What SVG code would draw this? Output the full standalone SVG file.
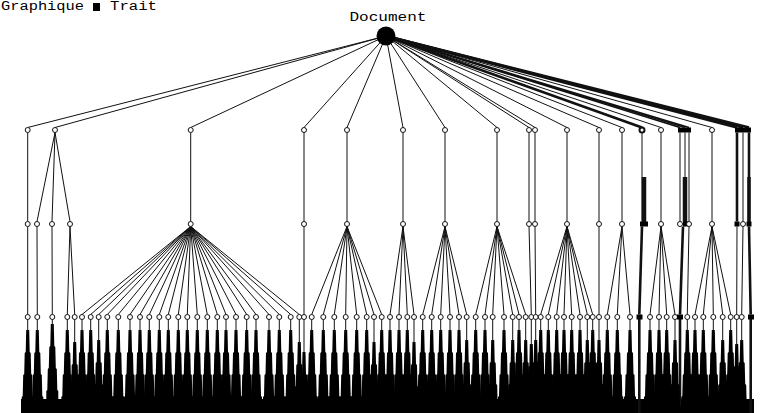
<svg xmlns="http://www.w3.org/2000/svg" xmlns:xlink="http://www.w3.org/1999/xlink" width="761" height="413" viewBox="0 0 761 413">
<style>
.t{font-family:"Liberation Mono","DejaVu Sans Mono",monospace;font-size:13px;fill:#000}
.lg{font-size:12px}
.e line{stroke:#111;stroke-width:1;fill:none}
.e .k{stroke-width:2.6}
.e .m{stroke-width:1.6}
.n{fill:#fff;stroke:#111;stroke-width:1}
.s{fill:#000}
</style>
<defs>
<path id="spike" d="M-1.5,330 L1.5,330 L2,352 L3,353 L3.5,374 L4.5,375 L5,396 L6,397 L6,413 L-6,413 L-6,397 L-5,396 L-4.5,375 L-3.5,374 L-3,353 L-2,352 Z"/>
</defs>
<rect width="761" height="413" fill="#fff"/>
<g id="legend">
<text class="t lg" x="1" y="10" textLength="83" lengthAdjust="spacingAndGlyphs">Graphique</text>
<rect x="93" y="3" width="7" height="8" fill="#000"/>
<text class="t lg" x="110" y="10" textLength="47" lengthAdjust="spacingAndGlyphs">Trait</text>
</g>
<g id="bottom-band"><rect x="21" y="399" width="733" height="14" fill="#000"/></g>
<g id="connectors" class="e">
<line x1="386" y1="36" x2="27.7" y2="127.5"/>
<line x1="386" y1="36" x2="55" y2="127.5"/>
<line x1="386" y1="36" x2="190.7" y2="127.5"/>
<line x1="386" y1="36" x2="304" y2="127.5"/>
<line x1="386" y1="36" x2="347" y2="127.5"/>
<line x1="386" y1="36" x2="403" y2="127.5"/>
<line x1="386" y1="36" x2="445" y2="127.5"/>
<line x1="386" y1="36" x2="497" y2="127.5"/>
<line x1="386" y1="36" x2="529" y2="127.5"/>
<line x1="386" y1="36" x2="535" y2="127.5"/>
<line x1="386" y1="36" x2="567" y2="127.5"/>
<line x1="386" y1="36" x2="599" y2="127.5"/>
<line x1="386" y1="36" x2="622" y2="127.5"/>
<line class="k" x1="386" y1="36" x2="642" y2="127.5"/>
<line x1="386" y1="36" x2="661" y2="127.5"/>
<line class="m" x1="386" y1="36" x2="680" y2="127.5"/>
<line class="m" x1="386" y1="36" x2="685" y2="127.5"/>
<line class="m" x1="386" y1="36" x2="689" y2="127.5"/>
<line x1="386" y1="36" x2="712" y2="127.5"/>
<line class="k" x1="386" y1="36" x2="737" y2="127.5"/>
<line class="k" x1="386" y1="36" x2="743" y2="127.5"/>
<line class="k" x1="386" y1="36" x2="749" y2="127.5"/>
<line x1="27.7" y1="132.5" x2="27.7" y2="221.5"/>
<line x1="55" y1="132.5" x2="37" y2="221.5"/>
<line x1="55" y1="132.5" x2="52" y2="221.5"/>
<line x1="55" y1="132.5" x2="70" y2="221.5"/>
<line x1="190.7" y1="132.5" x2="190.7" y2="221.5"/>
<line x1="304" y1="132.5" x2="304" y2="221.5"/>
<line x1="347" y1="132.5" x2="347" y2="221.5"/>
<line x1="403" y1="132.5" x2="403" y2="221.5"/>
<line x1="445" y1="132.5" x2="445" y2="221.5"/>
<line x1="497" y1="132.5" x2="497" y2="221.5"/>
<line x1="529" y1="132.5" x2="529" y2="221.5"/>
<line x1="535" y1="132.5" x2="535" y2="221.5"/>
<line x1="567" y1="132.5" x2="567" y2="221.5"/>
<line x1="599" y1="132.5" x2="599" y2="221.5"/>
<line x1="622" y1="132.5" x2="622" y2="221.5"/>
<line x1="642" y1="132.5" x2="642" y2="221.5"/>
<line x1="661" y1="132.5" x2="661" y2="221.5"/>
<line x1="680" y1="132.5" x2="680" y2="221.5"/>
<line x1="685" y1="132.5" x2="685" y2="221.5"/>
<line x1="689" y1="132.5" x2="689" y2="221.5"/>
<line x1="712" y1="132.5" x2="712" y2="221.5"/>
<line class="k" x1="737" y1="132.5" x2="737" y2="221.5"/>
<line x1="743" y1="132.5" x2="743" y2="221.5"/>
<line class="k" x1="749" y1="132.5" x2="749" y2="221.5"/>
<line x1="27.7" y1="226.5" x2="27.7" y2="314.5"/>
<line x1="37" y1="226.5" x2="37.3" y2="314.5"/>
<line x1="52" y1="226.5" x2="52.3" y2="314.5"/>
<line x1="70" y1="226.5" x2="67.3" y2="314.5"/>
<line x1="70" y1="226.5" x2="74.7" y2="314.5"/>
<line x1="190.7" y1="226.5" x2="82" y2="314.5"/>
<line x1="190.7" y1="226.5" x2="90.7" y2="314.5"/>
<line x1="190.7" y1="226.5" x2="98.7" y2="314.5"/>
<line x1="190.7" y1="226.5" x2="107.3" y2="314.5"/>
<line x1="190.7" y1="226.5" x2="118.3" y2="314.5"/>
<line x1="190.7" y1="226.5" x2="130" y2="314.5"/>
<line x1="190.7" y1="226.5" x2="140" y2="314.5"/>
<line x1="190.7" y1="226.5" x2="149.3" y2="314.5"/>
<line x1="190.7" y1="226.5" x2="159.3" y2="314.5"/>
<line x1="190.7" y1="226.5" x2="168.3" y2="314.5"/>
<line x1="190.7" y1="226.5" x2="178.3" y2="314.5"/>
<line x1="190.7" y1="226.5" x2="187.3" y2="314.5"/>
<line x1="190.7" y1="226.5" x2="197.3" y2="314.5"/>
<line x1="190.7" y1="226.5" x2="207.3" y2="314.5"/>
<line x1="190.7" y1="226.5" x2="217.3" y2="314.5"/>
<line x1="190.7" y1="226.5" x2="226" y2="314.5"/>
<line x1="190.7" y1="226.5" x2="236" y2="314.5"/>
<line x1="190.7" y1="226.5" x2="246.7" y2="314.5"/>
<line x1="190.7" y1="226.5" x2="256" y2="314.5"/>
<line x1="190.7" y1="226.5" x2="269" y2="314.5"/>
<line x1="190.7" y1="226.5" x2="279.3" y2="314.5"/>
<line x1="190.7" y1="226.5" x2="290.7" y2="314.5"/>
<line x1="190.7" y1="226.5" x2="299.3" y2="314.5"/>
<line x1="304" y1="226.5" x2="304" y2="314.5"/>
<line x1="347" y1="226.5" x2="311.7" y2="314.5"/>
<line x1="347" y1="226.5" x2="323.3" y2="314.5"/>
<line x1="347" y1="226.5" x2="334.3" y2="314.5"/>
<line x1="347" y1="226.5" x2="345.7" y2="314.5"/>
<line x1="347" y1="226.5" x2="356.7" y2="314.5"/>
<line x1="347" y1="226.5" x2="366.7" y2="314.5"/>
<line x1="347" y1="226.5" x2="374" y2="314.5"/>
<line x1="347" y1="226.5" x2="381.7" y2="314.5"/>
<line x1="403" y1="226.5" x2="390" y2="314.5"/>
<line x1="403" y1="226.5" x2="399" y2="314.5"/>
<line x1="403" y1="226.5" x2="407.3" y2="314.5"/>
<line x1="403" y1="226.5" x2="414" y2="314.5"/>
<line x1="445" y1="226.5" x2="422.7" y2="314.5"/>
<line x1="445" y1="226.5" x2="431.7" y2="314.5"/>
<line x1="445" y1="226.5" x2="440.7" y2="314.5"/>
<line x1="445" y1="226.5" x2="450" y2="314.5"/>
<line x1="445" y1="226.5" x2="459" y2="314.5"/>
<line x1="445" y1="226.5" x2="466.7" y2="314.5"/>
<line x1="497" y1="226.5" x2="475.7" y2="314.5"/>
<line x1="497" y1="226.5" x2="485" y2="314.5"/>
<line x1="497" y1="226.5" x2="492.7" y2="314.5"/>
<line x1="497" y1="226.5" x2="504" y2="314.5"/>
<line x1="497" y1="226.5" x2="512.7" y2="314.5"/>
<line x1="497" y1="226.5" x2="519" y2="314.5"/>
<line x1="497" y1="226.5" x2="525.7" y2="314.5"/>
<line x1="529" y1="226.5" x2="531.3" y2="314.5"/>
<line x1="535" y1="226.5" x2="535.7" y2="314.5"/>
<line x1="567" y1="226.5" x2="540.7" y2="314.5"/>
<line x1="567" y1="226.5" x2="548.3" y2="314.5"/>
<line x1="567" y1="226.5" x2="556.7" y2="314.5"/>
<line x1="567" y1="226.5" x2="564" y2="314.5"/>
<line x1="567" y1="226.5" x2="571.7" y2="314.5"/>
<line x1="567" y1="226.5" x2="580" y2="314.5"/>
<line x1="567" y1="226.5" x2="587.3" y2="314.5"/>
<line x1="567" y1="226.5" x2="592.7" y2="314.5"/>
<line x1="599" y1="226.5" x2="599" y2="314.5"/>
<line x1="622" y1="226.5" x2="607.3" y2="314.5"/>
<line x1="622" y1="226.5" x2="617.3" y2="314.5"/>
<line x1="622" y1="226.5" x2="630" y2="314.5"/>
<line class="k" x1="642" y1="226.5" x2="639.3" y2="314.5"/>
<line x1="661" y1="226.5" x2="650" y2="314.5"/>
<line x1="661" y1="226.5" x2="659" y2="314.5"/>
<line x1="661" y1="226.5" x2="666.7" y2="314.5"/>
<line x1="661" y1="226.5" x2="675" y2="314.5"/>
<line class="k" x1="683" y1="226.5" x2="680" y2="314.5"/>
<line x1="689" y1="226.5" x2="687.3" y2="314.5"/>
<line x1="712" y1="226.5" x2="695" y2="314.5"/>
<line x1="712" y1="226.5" x2="703.3" y2="314.5"/>
<line x1="712" y1="226.5" x2="713.3" y2="314.5"/>
<line x1="712" y1="226.5" x2="722.7" y2="314.5"/>
<line x1="712" y1="226.5" x2="730.7" y2="314.5"/>
<line x1="737" y1="226.5" x2="736.7" y2="314.5"/>
<line x1="743" y1="226.5" x2="741.7" y2="314.5"/>
<line class="k" x1="749" y1="226.5" x2="750.7" y2="314.5"/>
<line class="k" x1="644" y1="177" x2="644" y2="222" style="stroke-width:4.5"/>
<line class="k" x1="685" y1="177" x2="685" y2="222" style="stroke-width:4.5"/>
<line class="k" x1="749" y1="177" x2="749" y2="222" style="stroke-width:3.5"/>
<line class="k" x1="639.3" y1="319" x2="639.3" y2="413"/>
<line class="k" x1="680" y1="319" x2="680" y2="413"/>
<line class="k" x1="750.7" y1="319" x2="750.7" y2="413"/>
</g>
<g id="root">
<circle cx="386" cy="36" r="9.5" fill="#000"/>
<text class="t" x="388" y="21" text-anchor="middle" textLength="77" lengthAdjust="spacingAndGlyphs">Document</text>
</g>
<g id="level1">
<g id="n1-27"><circle class="n" cx="27.7" cy="130" r="2.5"/></g>
<g id="n1-55"><circle class="n" cx="55" cy="130" r="2.5"/></g>
<g id="n1-190"><circle class="n" cx="190.7" cy="130" r="2.5"/></g>
<g id="n1-304"><circle class="n" cx="304" cy="130" r="2.5"/></g>
<g id="n1-347"><circle class="n" cx="347" cy="130" r="2.5"/></g>
<g id="n1-403"><circle class="n" cx="403" cy="130" r="2.5"/></g>
<g id="n1-445"><circle class="n" cx="445" cy="130" r="2.5"/></g>
<g id="n1-497"><circle class="n" cx="497" cy="130" r="2.5"/></g>
<g id="n1-529"><circle class="n" cx="529" cy="130" r="2.5"/></g>
<g id="n1-535"><circle class="n" cx="535" cy="130" r="2.5"/></g>
<g id="n1-567"><circle class="n" cx="567" cy="130" r="2.5"/></g>
<g id="n1-599"><circle class="n" cx="599" cy="130" r="2.5"/></g>
<g id="n1-622"><circle class="n" cx="622" cy="130" r="2.5"/></g>
<g id="n1-642"><circle class="n" cx="642" cy="130" r="2.5" style="stroke-width:2"/></g>
<g id="n1-661"><circle class="n" cx="661" cy="130" r="2.5"/></g>
<g id="n1-685"><rect x="678" y="127.5" width="13" height="5" fill="#000"/></g>
<g id="n1-712"><circle class="n" cx="712" cy="130" r="2.5"/></g>
<g id="n1-743"><rect x="735" y="127.5" width="16" height="5" fill="#000"/></g>
</g>
<g id="level2">
<g id="n2-27"><circle class="n" cx="27.7" cy="224" r="2.5"/></g>
<g id="n2-37"><circle class="n" cx="37" cy="224" r="2.5"/></g>
<g id="n2-52"><circle class="n" cx="52" cy="224" r="2.5"/></g>
<g id="n2-70"><circle class="n" cx="70" cy="224" r="2.5"/></g>
<g id="n2-190"><circle class="n" cx="190.7" cy="224" r="2.5"/></g>
<g id="n2-304"><circle class="n" cx="304" cy="224" r="2.5"/></g>
<g id="n2-347"><circle class="n" cx="347" cy="224" r="2.5"/></g>
<g id="n2-403"><circle class="n" cx="403" cy="224" r="2.5"/></g>
<g id="n2-445"><circle class="n" cx="445" cy="224" r="2.5"/></g>
<g id="n2-497"><circle class="n" cx="497" cy="224" r="2.5"/></g>
<g id="n2-529"><circle class="n" cx="529" cy="224" r="2.5"/></g>
<g id="n2-535"><circle class="n" cx="535" cy="224" r="2.5"/></g>
<g id="n2-567"><circle class="n" cx="567" cy="224" r="2.5"/></g>
<g id="n2-599"><circle class="n" cx="599" cy="224" r="2.5"/></g>
<g id="n2-622"><circle class="n" cx="622" cy="224" r="2.5"/></g>
<g id="n2-642"><rect x="640" y="221.5" width="8" height="5" fill="#000"/></g>
<g id="n2-661"><circle class="n" cx="661" cy="224" r="2.5"/></g>
<g id="n2-680"><circle class="n" cx="680" cy="224" r="2.5"/></g>
<g id="n2-685"><rect x="683" y="221.5" width="5" height="5" fill="#000"/></g>
<g id="n2-689"><circle class="n" cx="689" cy="224" r="2.5"/></g>
<g id="n2-712"><circle class="n" cx="712" cy="224" r="2.5"/></g>
<g id="n2-737"><rect x="734.5" y="221.5" width="5" height="5" fill="#000"/></g>
<g id="n2-743"><circle class="n" cx="743" cy="224" r="2.5"/></g>
<g id="n2-749"><rect x="746.5" y="221.5" width="5" height="5" fill="#000"/></g>
</g>
<g id="level3">
<g id="n3-27"><use href="#spike" x="27.7" class="s"/><line x1="27.7" y1="319" x2="27.7" y2="332" stroke="#111"/><circle class="n" cx="27.7" cy="317" r="2.5"/></g>
<g id="n3-37"><use href="#spike" x="37.3" class="s"/><line x1="37.3" y1="319" x2="37.3" y2="332" stroke="#111"/><circle class="n" cx="37.3" cy="317" r="2.5"/></g>
<g id="n3-52"><use href="#spike" x="52.3" class="s" transform="translate(0,-6)"/><line x1="52.3" y1="319" x2="52.3" y2="332" stroke="#111"/><circle class="n" cx="52.3" cy="317" r="2.5"/></g>
<g id="n3-67"><use href="#spike" x="67.3" class="s"/><line x1="67.3" y1="319" x2="67.3" y2="332" stroke="#111"/><circle class="n" cx="67.3" cy="317" r="2.5"/></g>
<g id="n3-75"><use href="#spike" x="74.7" class="s" transform="translate(0,12)"/><line x1="74.7" y1="319" x2="74.7" y2="344" stroke="#111"/><circle class="n" cx="74.7" cy="317" r="2.5"/></g>
<g id="n3-82"><use href="#spike" x="82" class="s"/><line x1="82" y1="319" x2="82" y2="332" stroke="#111"/><circle class="n" cx="82" cy="317" r="2.5"/></g>
<g id="n3-91"><use href="#spike" x="90.7" class="s"/><line x1="90.7" y1="319" x2="90.7" y2="332" stroke="#111"/><circle class="n" cx="90.7" cy="317" r="2.5"/></g>
<g id="n3-99"><use href="#spike" x="98.7" class="s" transform="translate(0,10)"/><line x1="98.7" y1="319" x2="98.7" y2="342" stroke="#111"/><circle class="n" cx="98.7" cy="317" r="2.5"/></g>
<g id="n3-107"><use href="#spike" x="107.3" class="s"/><line x1="107.3" y1="319" x2="107.3" y2="332" stroke="#111"/><circle class="n" cx="107.3" cy="317" r="2.5"/></g>
<g id="n3-118"><use href="#spike" x="118.3" class="s"/><line x1="118.3" y1="319" x2="118.3" y2="332" stroke="#111"/><circle class="n" cx="118.3" cy="317" r="2.5"/></g>
<g id="n3-130"><use href="#spike" x="130" class="s"/><line x1="130" y1="319" x2="130" y2="332" stroke="#111"/><circle class="n" cx="130" cy="317" r="2.5"/></g>
<g id="n3-140"><use href="#spike" x="140" class="s"/><line x1="140" y1="319" x2="140" y2="332" stroke="#111"/><circle class="n" cx="140" cy="317" r="2.5"/></g>
<g id="n3-149"><use href="#spike" x="149.3" class="s"/><line x1="149.3" y1="319" x2="149.3" y2="332" stroke="#111"/><circle class="n" cx="149.3" cy="317" r="2.5"/></g>
<g id="n3-159"><use href="#spike" x="159.3" class="s"/><line x1="159.3" y1="319" x2="159.3" y2="332" stroke="#111"/><circle class="n" cx="159.3" cy="317" r="2.5"/></g>
<g id="n3-168"><use href="#spike" x="168.3" class="s"/><line x1="168.3" y1="319" x2="168.3" y2="332" stroke="#111"/><circle class="n" cx="168.3" cy="317" r="2.5"/></g>
<g id="n3-178"><use href="#spike" x="178.3" class="s"/><line x1="178.3" y1="319" x2="178.3" y2="332" stroke="#111"/><circle class="n" cx="178.3" cy="317" r="2.5"/></g>
<g id="n3-187"><use href="#spike" x="187.3" class="s"/><line x1="187.3" y1="319" x2="187.3" y2="332" stroke="#111"/><circle class="n" cx="187.3" cy="317" r="2.5"/></g>
<g id="n3-197"><use href="#spike" x="197.3" class="s"/><line x1="197.3" y1="319" x2="197.3" y2="332" stroke="#111"/><circle class="n" cx="197.3" cy="317" r="2.5"/></g>
<g id="n3-207"><use href="#spike" x="207.3" class="s"/><line x1="207.3" y1="319" x2="207.3" y2="332" stroke="#111"/><circle class="n" cx="207.3" cy="317" r="2.5"/></g>
<g id="n3-217"><use href="#spike" x="217.3" class="s"/><line x1="217.3" y1="319" x2="217.3" y2="332" stroke="#111"/><circle class="n" cx="217.3" cy="317" r="2.5"/></g>
<g id="n3-226"><use href="#spike" x="226" class="s"/><line x1="226" y1="319" x2="226" y2="332" stroke="#111"/><circle class="n" cx="226" cy="317" r="2.5"/></g>
<g id="n3-236"><use href="#spike" x="236" class="s"/><line x1="236" y1="319" x2="236" y2="332" stroke="#111"/><circle class="n" cx="236" cy="317" r="2.5"/></g>
<g id="n3-247"><use href="#spike" x="246.7" class="s"/><line x1="246.7" y1="319" x2="246.7" y2="332" stroke="#111"/><circle class="n" cx="246.7" cy="317" r="2.5"/></g>
<g id="n3-256"><use href="#spike" x="256" class="s"/><line x1="256" y1="319" x2="256" y2="332" stroke="#111"/><circle class="n" cx="256" cy="317" r="2.5"/></g>
<g id="n3-269"><use href="#spike" x="269" class="s"/><line x1="269" y1="319" x2="269" y2="332" stroke="#111"/><circle class="n" cx="269" cy="317" r="2.5"/></g>
<g id="n3-279"><use href="#spike" x="279.3" class="s"/><line x1="279.3" y1="319" x2="279.3" y2="332" stroke="#111"/><circle class="n" cx="279.3" cy="317" r="2.5"/></g>
<g id="n3-291"><use href="#spike" x="290.7" class="s"/><line x1="290.7" y1="319" x2="290.7" y2="332" stroke="#111"/><circle class="n" cx="290.7" cy="317" r="2.5"/></g>
<g id="n3-299"><use href="#spike" x="299.3" class="s" transform="translate(0,12)"/><line x1="299.3" y1="319" x2="299.3" y2="344" stroke="#111"/><circle class="n" cx="299.3" cy="317" r="2.5"/></g>
<g id="n3-304"><use href="#spike" x="304" class="s" transform="translate(0,22)"/><line x1="304" y1="319" x2="304" y2="354" stroke="#111"/><circle class="n" cx="304" cy="317" r="2.5"/></g>
<g id="n3-312"><use href="#spike" x="311.7" class="s"/><line x1="311.7" y1="319" x2="311.7" y2="332" stroke="#111"/><circle class="n" cx="311.7" cy="317" r="2.5"/></g>
<g id="n3-323"><use href="#spike" x="323.3" class="s"/><line x1="323.3" y1="319" x2="323.3" y2="332" stroke="#111"/><circle class="n" cx="323.3" cy="317" r="2.5"/></g>
<g id="n3-334"><use href="#spike" x="334.3" class="s"/><line x1="334.3" y1="319" x2="334.3" y2="332" stroke="#111"/><circle class="n" cx="334.3" cy="317" r="2.5"/></g>
<g id="n3-346"><use href="#spike" x="345.7" class="s"/><line x1="345.7" y1="319" x2="345.7" y2="332" stroke="#111"/><circle class="n" cx="345.7" cy="317" r="2.5"/></g>
<g id="n3-357"><use href="#spike" x="356.7" class="s"/><line x1="356.7" y1="319" x2="356.7" y2="332" stroke="#111"/><circle class="n" cx="356.7" cy="317" r="2.5"/></g>
<g id="n3-367"><use href="#spike" x="366.7" class="s"/><line x1="366.7" y1="319" x2="366.7" y2="332" stroke="#111"/><circle class="n" cx="366.7" cy="317" r="2.5"/></g>
<g id="n3-374"><use href="#spike" x="374" class="s" transform="translate(0,12)"/><line x1="374" y1="319" x2="374" y2="344" stroke="#111"/><circle class="n" cx="374" cy="317" r="2.5"/></g>
<g id="n3-382"><use href="#spike" x="381.7" class="s"/><line x1="381.7" y1="319" x2="381.7" y2="332" stroke="#111"/><circle class="n" cx="381.7" cy="317" r="2.5"/></g>
<g id="n3-390"><use href="#spike" x="390" class="s"/><line x1="390" y1="319" x2="390" y2="332" stroke="#111"/><circle class="n" cx="390" cy="317" r="2.5"/></g>
<g id="n3-399"><use href="#spike" x="399" class="s"/><line x1="399" y1="319" x2="399" y2="332" stroke="#111"/><circle class="n" cx="399" cy="317" r="2.5"/></g>
<g id="n3-407"><use href="#spike" x="407.3" class="s"/><line x1="407.3" y1="319" x2="407.3" y2="332" stroke="#111"/><circle class="n" cx="407.3" cy="317" r="2.5"/></g>
<g id="n3-414"><use href="#spike" x="414" class="s" transform="translate(0,12)"/><line x1="414" y1="319" x2="414" y2="344" stroke="#111"/><circle class="n" cx="414" cy="317" r="2.5"/></g>
<g id="n3-423"><use href="#spike" x="422.7" class="s"/><line x1="422.7" y1="319" x2="422.7" y2="332" stroke="#111"/><circle class="n" cx="422.7" cy="317" r="2.5"/></g>
<g id="n3-432"><use href="#spike" x="431.7" class="s"/><line x1="431.7" y1="319" x2="431.7" y2="332" stroke="#111"/><circle class="n" cx="431.7" cy="317" r="2.5"/></g>
<g id="n3-441"><use href="#spike" x="440.7" class="s"/><line x1="440.7" y1="319" x2="440.7" y2="332" stroke="#111"/><circle class="n" cx="440.7" cy="317" r="2.5"/></g>
<g id="n3-450"><use href="#spike" x="450" class="s"/><line x1="450" y1="319" x2="450" y2="332" stroke="#111"/><circle class="n" cx="450" cy="317" r="2.5"/></g>
<g id="n3-459"><use href="#spike" x="459" class="s"/><line x1="459" y1="319" x2="459" y2="332" stroke="#111"/><circle class="n" cx="459" cy="317" r="2.5"/></g>
<g id="n3-467"><use href="#spike" x="466.7" class="s" transform="translate(0,10)"/><line x1="466.7" y1="319" x2="466.7" y2="342" stroke="#111"/><circle class="n" cx="466.7" cy="317" r="2.5"/></g>
<g id="n3-476"><use href="#spike" x="475.7" class="s"/><line x1="475.7" y1="319" x2="475.7" y2="332" stroke="#111"/><circle class="n" cx="475.7" cy="317" r="2.5"/></g>
<g id="n3-485"><use href="#spike" x="485" class="s"/><line x1="485" y1="319" x2="485" y2="332" stroke="#111"/><circle class="n" cx="485" cy="317" r="2.5"/></g>
<g id="n3-493"><use href="#spike" x="492.7" class="s" transform="translate(0,10)"/><line x1="492.7" y1="319" x2="492.7" y2="342" stroke="#111"/><circle class="n" cx="492.7" cy="317" r="2.5"/></g>
<g id="n3-504"><use href="#spike" x="504" class="s"/><line x1="504" y1="319" x2="504" y2="332" stroke="#111"/><circle class="n" cx="504" cy="317" r="2.5"/></g>
<g id="n3-513"><use href="#spike" x="512.7" class="s" transform="translate(0,10)"/><line x1="512.7" y1="319" x2="512.7" y2="342" stroke="#111"/><circle class="n" cx="512.7" cy="317" r="2.5"/></g>
<g id="n3-519"><use href="#spike" x="519" class="s"/><line x1="519" y1="319" x2="519" y2="332" stroke="#111"/><circle class="n" cx="519" cy="317" r="2.5"/></g>
<g id="n3-526"><use href="#spike" x="525.7" class="s" transform="translate(0,10)"/><line x1="525.7" y1="319" x2="525.7" y2="342" stroke="#111"/><circle class="n" cx="525.7" cy="317" r="2.5"/></g>
<g id="n3-531"><use href="#spike" x="531.3" class="s" transform="translate(0,14)"/><line x1="531.3" y1="319" x2="531.3" y2="346" stroke="#111"/><circle class="n" cx="531.3" cy="317" r="2.5"/></g>
<g id="n3-536"><use href="#spike" x="535.7" class="s" transform="translate(0,10)"/><line x1="535.7" y1="319" x2="535.7" y2="342" stroke="#111"/><circle class="n" cx="535.7" cy="317" r="2.5"/></g>
<g id="n3-541"><use href="#spike" x="540.7" class="s"/><line x1="540.7" y1="319" x2="540.7" y2="332" stroke="#111"/><circle class="n" cx="540.7" cy="317" r="2.5"/></g>
<g id="n3-548"><use href="#spike" x="548.3" class="s"/><line x1="548.3" y1="319" x2="548.3" y2="332" stroke="#111"/><circle class="n" cx="548.3" cy="317" r="2.5"/></g>
<g id="n3-557"><use href="#spike" x="556.7" class="s"/><line x1="556.7" y1="319" x2="556.7" y2="332" stroke="#111"/><circle class="n" cx="556.7" cy="317" r="2.5"/></g>
<g id="n3-564"><use href="#spike" x="564" class="s"/><line x1="564" y1="319" x2="564" y2="332" stroke="#111"/><circle class="n" cx="564" cy="317" r="2.5"/></g>
<g id="n3-572"><use href="#spike" x="571.7" class="s"/><line x1="571.7" y1="319" x2="571.7" y2="332" stroke="#111"/><circle class="n" cx="571.7" cy="317" r="2.5"/></g>
<g id="n3-580"><use href="#spike" x="580" class="s"/><line x1="580" y1="319" x2="580" y2="332" stroke="#111"/><circle class="n" cx="580" cy="317" r="2.5"/></g>
<g id="n3-587"><use href="#spike" x="587.3" class="s" transform="translate(0,10)"/><line x1="587.3" y1="319" x2="587.3" y2="342" stroke="#111"/><circle class="n" cx="587.3" cy="317" r="2.5"/></g>
<g id="n3-593"><use href="#spike" x="592.7" class="s"/><line x1="592.7" y1="319" x2="592.7" y2="332" stroke="#111"/><circle class="n" cx="592.7" cy="317" r="2.5"/></g>
<g id="n3-599"><use href="#spike" x="599" class="s" transform="translate(0,10)"/><line x1="599" y1="319" x2="599" y2="342" stroke="#111"/><circle class="n" cx="599" cy="317" r="2.5"/></g>
<g id="n3-607"><use href="#spike" x="607.3" class="s"/><line x1="607.3" y1="319" x2="607.3" y2="332" stroke="#111"/><circle class="n" cx="607.3" cy="317" r="2.5"/></g>
<g id="n3-617"><use href="#spike" x="617.3" class="s"/><line x1="617.3" y1="319" x2="617.3" y2="332" stroke="#111"/><circle class="n" cx="617.3" cy="317" r="2.5"/></g>
<g id="n3-630"><use href="#spike" x="630" class="s"/><line x1="630" y1="319" x2="630" y2="332" stroke="#111"/><circle class="n" cx="630" cy="317" r="2.5"/></g>
<g id="n3-639"><rect x="636.5" y="314.5" width="6" height="5" fill="#000"/></g>
<g id="n3-650"><use href="#spike" x="650" class="s"/><line x1="650" y1="319" x2="650" y2="332" stroke="#111"/><circle class="n" cx="650" cy="317" r="2.5"/></g>
<g id="n3-659"><use href="#spike" x="659" class="s"/><line x1="659" y1="319" x2="659" y2="332" stroke="#111"/><circle class="n" cx="659" cy="317" r="2.5"/></g>
<g id="n3-667"><use href="#spike" x="666.7" class="s"/><line x1="666.7" y1="319" x2="666.7" y2="332" stroke="#111"/><circle class="n" cx="666.7" cy="317" r="2.5"/></g>
<g id="n3-675"><use href="#spike" x="675" class="s" transform="translate(0,10)"/><line x1="675" y1="319" x2="675" y2="342" stroke="#111"/><circle class="n" cx="675" cy="317" r="2.5"/></g>
<g id="n3-680"><rect x="677" y="314.5" width="6" height="5" fill="#000"/></g>
<g id="n3-687"><use href="#spike" x="687.3" class="s"/><line x1="687.3" y1="319" x2="687.3" y2="332" stroke="#111"/><circle class="n" cx="687.3" cy="317" r="2.5"/></g>
<g id="n3-695"><use href="#spike" x="695" class="s"/><line x1="695" y1="319" x2="695" y2="332" stroke="#111"/><circle class="n" cx="695" cy="317" r="2.5"/></g>
<g id="n3-703"><use href="#spike" x="703.3" class="s"/><line x1="703.3" y1="319" x2="703.3" y2="332" stroke="#111"/><circle class="n" cx="703.3" cy="317" r="2.5"/></g>
<g id="n3-713"><use href="#spike" x="713.3" class="s"/><line x1="713.3" y1="319" x2="713.3" y2="332" stroke="#111"/><circle class="n" cx="713.3" cy="317" r="2.5"/></g>
<g id="n3-723"><use href="#spike" x="722.7" class="s" transform="translate(0,10)"/><line x1="722.7" y1="319" x2="722.7" y2="342" stroke="#111"/><circle class="n" cx="722.7" cy="317" r="2.5"/></g>
<g id="n3-731"><use href="#spike" x="730.7" class="s"/><line x1="730.7" y1="319" x2="730.7" y2="332" stroke="#111"/><circle class="n" cx="730.7" cy="317" r="2.5"/></g>
<g id="n3-737"><use href="#spike" x="736.7" class="s" transform="translate(0,14)"/><line x1="736.7" y1="319" x2="736.7" y2="346" stroke="#111"/><circle class="n" cx="736.7" cy="317" r="2.5"/></g>
<g id="n3-742"><use href="#spike" x="741.7" class="s" transform="translate(0,10)"/><line x1="741.7" y1="319" x2="741.7" y2="342" stroke="#111"/><circle class="n" cx="741.7" cy="317" r="2.5"/></g>
<g id="n3-751"><rect x="748" y="314.5" width="6" height="5" fill="#000"/></g>
</g>
</svg>
